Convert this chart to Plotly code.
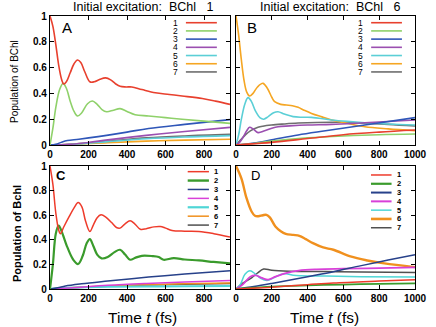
import plotly.graph_objects as go

W, H = 436, 327

# ---------------- Data ----------------
# Panel A (initial excitation BChl 1, top-left)
a1_t = [0, 15, 30, 45, 60, 71, 85, 105, 125, 143, 160, 180, 207, 230, 260, 289, 315, 340, 364, 395, 425, 477, 547, 620, 686, 791, 860, 935]
a1_p = [1.0, 0.92, 0.78, 0.62, 0.51, 0.473, 0.49, 0.56, 0.63, 0.659, 0.64, 0.57, 0.49, 0.49, 0.51, 0.52, 0.505, 0.475, 0.455, 0.45, 0.45, 0.43, 0.405, 0.392, 0.38, 0.36, 0.34, 0.315]
a2_t = [0, 15, 30, 50, 68, 85, 105, 125, 143, 165, 195, 220, 245, 270, 294, 330, 364, 400, 442, 512, 600, 686, 800, 935]
a2_p = [0.0, 0.13, 0.29, 0.43, 0.478, 0.44, 0.34, 0.26, 0.225, 0.25, 0.32, 0.341, 0.315, 0.275, 0.258, 0.27, 0.282, 0.26, 0.235, 0.225, 0.212, 0.2, 0.185, 0.168]
a3_t = [0, 30, 60, 90, 150, 250, 400, 512, 700, 935]
a3_p = [0, 0.005, 0.022, 0.035, 0.045, 0.065, 0.1, 0.128, 0.16, 0.197]
a4_t = [0, 100, 200, 300, 500, 700, 935]
a4_p = [0, 0.005, 0.02, 0.04, 0.075, 0.105, 0.137]
a5_t = [0, 100, 300, 500, 700, 935]
a5_p = [0, 0.004, 0.026, 0.048, 0.062, 0.073]
a6_t = [0, 100, 300, 500, 700, 935]
a6_p = [0, 0.003, 0.018, 0.03, 0.038, 0.044]
a7_t = [0, 100, 300, 500, 700, 935]
a7_p = [0, 0.005, 0.03, 0.055, 0.07, 0.082]

# Panel B (initial excitation BChl 6, top-right)
b1_t = [0, 200, 400, 600, 800, 1000]
b1_p = [0, 0.02, 0.05, 0.08, 0.1, 0.116]
b2_t = [0, 100, 200, 400, 600, 800, 1000]
b2_p = [0, 0.012, 0.03, 0.055, 0.07, 0.08, 0.085]
b3_t = [0, 100, 200, 347, 500, 720, 1000]
b3_p = [0, 0.015, 0.04, 0.078, 0.11, 0.155, 0.212]
b4_t = [0, 20, 40, 60, 76, 95, 123, 160, 200, 235, 300, 400, 534, 720, 1000]
b4_p = [0, 0.02, 0.06, 0.11, 0.137, 0.125, 0.096, 0.11, 0.13, 0.142, 0.148, 0.155, 0.16, 0.173, 0.194]
b5_t = [0, 15, 30, 50, 67, 85, 110, 135, 155, 180, 210, 235, 270, 319, 370, 422, 534, 620, 720, 850, 1000]
b5_p = [0, 0.08, 0.2, 0.32, 0.367, 0.34, 0.26, 0.21, 0.2, 0.22, 0.25, 0.258, 0.24, 0.22, 0.215, 0.214, 0.194, 0.183, 0.173, 0.163, 0.155]
b6_t = [0, 15, 30, 45, 60, 76, 95, 120, 151, 175, 200, 216, 250, 282, 315, 347, 380, 422, 480, 534, 620, 720, 850, 1000]
b6_p = [1.0, 0.85, 0.66, 0.5, 0.41, 0.38, 0.4, 0.45, 0.478, 0.44, 0.37, 0.336, 0.315, 0.31, 0.305, 0.292, 0.27, 0.245, 0.218, 0.194, 0.168, 0.142, 0.125, 0.11]
b7_t = [0, 20, 50, 80, 123, 150, 198, 270, 347, 450, 560, 720, 850, 1000]
b7_p = [0, 0.03, 0.075, 0.11, 0.137, 0.146, 0.155, 0.163, 0.17, 0.175, 0.176, 0.168, 0.16, 0.147]

# Panel C (bottom-left)
c1_t = [0, 15, 30, 45, 54, 70, 100, 125, 146, 165, 185, 207, 225, 245, 265, 290, 320, 345, 364, 390, 416, 440, 469, 500, 540, 573, 600, 634, 700, 773, 850, 935]
c1_p = [1.0, 0.85, 0.62, 0.48, 0.449, 0.5, 0.59, 0.66, 0.703, 0.67, 0.55, 0.468, 0.52, 0.58, 0.603, 0.585, 0.54, 0.5, 0.495, 0.53, 0.554, 0.53, 0.486, 0.49, 0.505, 0.508, 0.495, 0.476, 0.47, 0.468, 0.45, 0.422]
c2_t = [0, 15, 30, 45, 60, 90, 120, 146, 170, 190, 207, 225, 245, 268, 300, 335, 364, 390, 416, 445, 477, 530, 565, 590, 643, 700, 773, 850, 935]
c2_p = [0, 0.2, 0.45, 0.516, 0.47, 0.34, 0.24, 0.203, 0.27, 0.37, 0.405, 0.35, 0.28, 0.249, 0.26, 0.3, 0.319, 0.28, 0.238, 0.255, 0.27, 0.268, 0.26, 0.238, 0.251, 0.24, 0.232, 0.22, 0.208]
c3_t = [0, 40, 80, 164, 300, 512, 700, 935]
c3_p = [0, 0.01, 0.025, 0.043, 0.065, 0.097, 0.122, 0.149]
c4_t = [0, 100, 300, 500, 700, 935]
c4_p = [0, 0.008, 0.03, 0.045, 0.057, 0.07]
c5_t = [0, 100, 300, 500, 700, 935]
c5_p = [0, 0.01, 0.018, 0.02, 0.022, 0.024]
c6_t = [0, 100, 300, 500, 700, 935]
c6_p = [0, 0.01, 0.025, 0.035, 0.042, 0.049]
c7_t = [0, 100, 300, 500, 700, 935]
c7_p = [0, 0.008, 0.022, 0.032, 0.038, 0.044]

# Panel D (bottom-right)
d1_t = [0, 200, 400, 544, 800, 1000]
d1_p = [0, 0.015, 0.035, 0.049, 0.065, 0.076]
d2_t = [0, 100, 200, 400, 600, 800, 1000]
d2_p = [0, 0.01, 0.02, 0.03, 0.036, 0.042, 0.046]
d3_t = [0, 100, 200, 400, 544, 700, 850, 1000]
d3_p = [0, 0.02, 0.045, 0.1, 0.14, 0.19, 0.235, 0.278]
d4_t = [0, 40, 80, 110, 145, 180, 220, 280, 350, 450, 600, 800, 1000]
d4_p = [0, 0.04, 0.1, 0.11, 0.09, 0.076, 0.1, 0.13, 0.15, 0.16, 0.165, 0.17, 0.176]
d5_t = [0, 25, 50, 78, 110, 140, 173, 210, 250, 278, 320, 360, 500, 700, 1000]
d5_p = [0, 0.04, 0.12, 0.149, 0.12, 0.085, 0.07, 0.09, 0.118, 0.124, 0.112, 0.108, 0.106, 0.1, 0.097]
d6_t = [0, 30, 59, 87, 106, 125, 150, 170, 190, 220, 250, 278, 320, 354, 390, 430, 487, 544, 639, 734, 829, 1000]
d6_p = [1.0, 0.9, 0.738, 0.63, 0.595, 0.592, 0.6, 0.603, 0.58, 0.508, 0.47, 0.449, 0.44, 0.432, 0.405, 0.373, 0.338, 0.319, 0.265, 0.232, 0.208, 0.178]
d7_t = [0, 40, 87, 120, 154, 200, 300, 500, 700, 1000]
d7_p = [0, 0.05, 0.09, 0.13, 0.162, 0.152, 0.145, 0.142, 0.138, 0.135]

series_names = ["1", "2", "3", "4", "5", "6", "7"]
top_colors = ["#e8402e", "#8fd16a", "#2f56b8", "#9b4fb0", "#5bcfd6", "#f5a623", "#6e6e6e"]
bot_colors = ["#ee3b2b", "#3a9b2c", "#27418a", "#d840d8", "#4fd6d6", "#f0901e", "#505050"]
x_ticks = [0, 200, 400, 600, 800, 1000]
y_ticks = [0, 0.2, 0.4, 0.6, 0.8, 1]
y_tick_text = ["0", "0.2", "0.4", "0.6", "0.8", "1"]

# ---------------- Layout helpers ----------------
def px(x):
    return x / W

def py(y):
    return 1 - y / H

FONT = "Liberation Sans, Arial, sans-serif"

fig = go.Figure()

panels = [
    ("x", "y", [(a1_t, a1_p), (a2_t, a2_p), (a3_t, a3_p), (a4_t, a4_p), (a5_t, a5_p), (a6_t, a6_p), (a7_t, a7_p)], top_colors, [1.6] * 7),
    ("x2", "y2", [(b1_t, b1_p), (b2_t, b2_p), (b3_t, b3_p), (b4_t, b4_p), (b5_t, b5_p), (b6_t, b6_p), (b7_t, b7_p)], top_colors, [1.6] * 7),
    ("x3", "y3", [(c1_t, c1_p), (c2_t, c2_p), (c3_t, c3_p), (c4_t, c4_p), (c5_t, c5_p), (c6_t, c6_p), (c7_t, c7_p)], bot_colors, [1.5, 2.2, 1.5, 1.5, 2.0, 1.5, 1.5]),
    ("x4", "y4", [(d1_t, d1_p), (d2_t, d2_p), (d3_t, d3_p), (d4_t, d4_p), (d5_t, d5_p), (d6_t, d6_p), (d7_t, d7_p)], bot_colors, [1.5, 1.8, 1.5, 1.8, 1.5, 2.4, 1.5]),
]

draw_order = [6, 5, 4, 3, 2, 1, 0]
for xa, ya, data, cols, widths in panels:
    for i in draw_order:
        t, p = data[i]
        fig.add_trace(go.Scatter(x=t, y=p, mode="lines", name=series_names[i],
                                 line=dict(color=cols[i], width=widths[i], shape="spline", smoothing=1.0),
                                 xaxis=xa, yaxis=ya, showlegend=False, hoverinfo="skip"))

def xaxis(domain, anchor, rng, showlabels):
    return dict(domain=domain, anchor=anchor, range=rng, tickvals=x_ticks,
                showticklabels=showlabels, ticks="inside", ticklen=4, tickwidth=1, tickcolor="black",
                showline=True, linecolor="black", linewidth=1.2, mirror="ticks",
                showgrid=False, zeroline=False, automargin=False,
                tickfont=dict(family=FONT, size=10, color="black", weight="bold"))

def yaxis(domain, anchor, showlabels):
    return dict(domain=domain, anchor=anchor, range=[0, 1], tickvals=y_ticks, ticktext=y_tick_text,
                showticklabels=showlabels, ticks="inside", ticklen=4, tickwidth=1, tickcolor="black",
                showline=True, linecolor="black", linewidth=1.2, mirror="ticks",
                showgrid=False, zeroline=False, automargin=False,
                tickfont=dict(family=FONT, size=10, color="black", weight="bold"))

xl = [px(50), px(230)]
xr = [px(236), px(415)]
yt = [py(145), py(16)]
yb = [py(289), py(166)]

fig.update_layout(
    width=W, height=H, margin=dict(l=0, r=0, t=0, b=0, pad=0),
    paper_bgcolor="white", plot_bgcolor="white", showlegend=False,
    xaxis=xaxis(xl, "y", [0, 935], True),
    yaxis=yaxis(yt, "x", True),
    xaxis2=xaxis(xr, "y2", [0, 1000], True),
    yaxis2=yaxis(yt, "x2", False),
    xaxis3=xaxis(xl, "y3", [0, 935], True),
    yaxis3=yaxis(yb, "x3", True),
    xaxis4=xaxis(xr, "y4", [0, 1000], True),
    yaxis4=yaxis(yb, "x4", False),
)

shapes = []
annots = []

# Top-row legends: number on the left, line sample on the right
for xa, ya in [("x", "y"), ("x2", "y2")]:
    for i in range(7):
        yy = 0.948 - i * 0.0636
        shapes.append(dict(type="line", xref=f"{xa} domain", yref=f"{ya} domain",
                           x0=0.755, x1=0.927, y0=yy, y1=yy,
                           line=dict(color=top_colors[i], width=1.6)))
        annots.append(dict(xref=f"{xa} domain", yref=f"{ya} domain", x=0.715, y=yy,
                           text=series_names[i], showarrow=False, xanchor="right", yanchor="middle",
                           borderpad=0, font=dict(family=FONT, size=8.5, color="black")))

# Bottom-row legends: line sample on the left, number on the right
leg_w = {"x3": [1.5, 2.4, 1.5, 1.5, 2.2, 1.5, 1.5], "x4": [1.5, 2.2, 2.0, 2.0, 1.5, 2.6, 1.5]}
for xa, ya, x0, x1, xt, y0, dy in [("x3", "y3", 0.765, 0.883, 0.905, 0.954, 0.0724),
                                    ("x4", "y4", 0.754, 0.869, 0.893, 0.927, 0.0715)]:
    for i in range(7):
        yy = y0 - i * dy
        shapes.append(dict(type="line", xref=f"{xa} domain", yref=f"{ya} domain",
                           x0=x0, x1=x1, y0=yy, y1=yy,
                           line=dict(color=bot_colors[i], width=leg_w[xa][i])))
        annots.append(dict(xref=f"{xa} domain", yref=f"{ya} domain", x=xt, y=yy,
                           text=series_names[i], showarrow=False, xanchor="left", yanchor="middle",
                           borderpad=0, font=dict(family=FONT, size=7.5, color="black", weight="bold")))

# Panel letters
annots += [
    dict(xref="paper", yref="paper", x=px(60), y=py(28), text="A", showarrow=False, xanchor="left", yanchor="middle",
         font=dict(family=FONT, size=15, color="black")),
    dict(xref="paper", yref="paper", x=px(245), y=py(28), text="B", showarrow=False, xanchor="left", yanchor="middle",
         font=dict(family=FONT, size=15, color="black")),
    dict(xref="paper", yref="paper", x=px(54), y=py(175), text="C", showarrow=False, xanchor="left", yanchor="middle",
         font=dict(family=FONT, size=13, color="black", weight="bold")),
    dict(xref="paper", yref="paper", x=px(249), y=py(175), text="D", showarrow=False, xanchor="left", yanchor="middle",
         font=dict(family=FONT, size=13, color="black")),
]

# Titles
annots += [
    dict(xref="paper", yref="paper", x=px(143), y=py(7), text="Initial excitation:\u00a0\u00a0BChl\u00a0\u00a0\u00a01",
         showarrow=False, xanchor="center", yanchor="middle", font=dict(family=FONT, size=12.5, color="black")),
    dict(xref="paper", yref="paper", x=px(330), y=py(7), text="Initial excitation:\u00a0\u00a0BChl\u00a0\u00a0\u00a06",
         showarrow=False, xanchor="center", yanchor="middle", font=dict(family=FONT, size=12.5, color="black")),
    dict(xref="paper", yref="paper", x=px(15), y=py(82), text="Population of BChl", textangle=-90,
         showarrow=False, xanchor="center", yanchor="middle", font=dict(family=FONT, size=10, color="black")),
    dict(xref="paper", yref="paper", x=px(17), y=py(234), text="Population of Bchl", textangle=-90,
         showarrow=False, xanchor="center", yanchor="middle", font=dict(family=FONT, size=11, color="black", weight="bold")),
    dict(xref="paper", yref="paper", x=px(142), y=py(317), text="Time <i>t</i> (fs)",
         showarrow=False, xanchor="center", yanchor="middle", font=dict(family=FONT, size=15.5, color="black")),
    dict(xref="paper", yref="paper", x=px(324), y=py(317), text="Time <i>t</i> (fs)",
         showarrow=False, xanchor="center", yanchor="middle", font=dict(family=FONT, size=15.5, color="black")),
]

fig.update_layout(shapes=shapes, annotations=annots)
fig.write_html("out.html", config={"displayModeBar": False},
               post_script="document.body.style.margin='0';document.body.style.overflow='hidden';")
